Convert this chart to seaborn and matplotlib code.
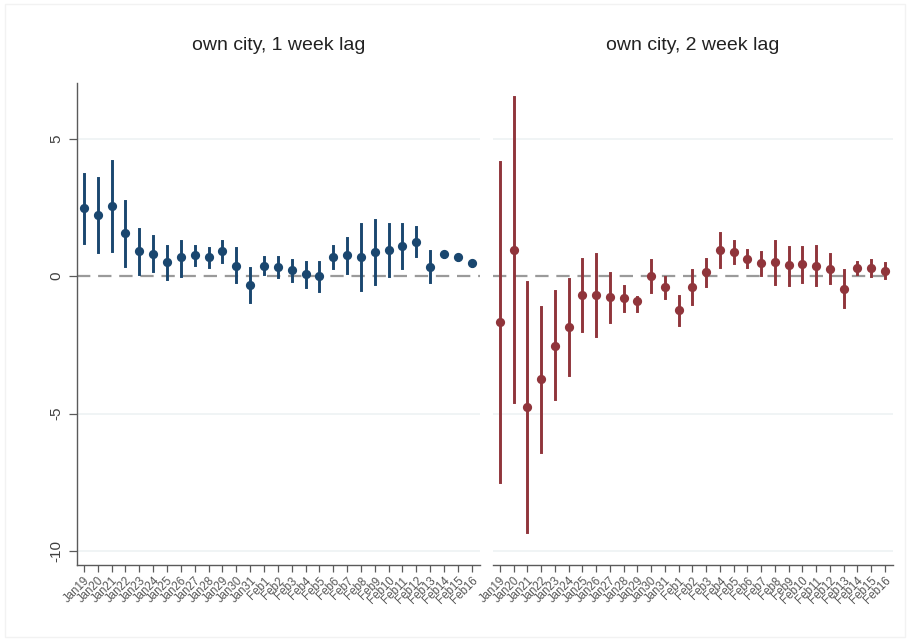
import numpy as np
import pandas as pd
import matplotlib
matplotlib.use("Agg")
import matplotlib.pyplot as plt
import seaborn as sns

# Daily labels shared by both panels
dates = ["Jan19", "Jan20", "Jan21", "Jan22", "Jan23", "Jan24", "Jan25", "Jan26",
         "Jan27", "Jan28", "Jan29", "Jan30", "Jan31", "Feb1", "Feb2", "Feb3",
         "Feb4", "Feb5", "Feb6", "Feb7", "Feb8", "Feb9", "Feb10", "Feb11",
         "Feb12", "Feb13", "Feb14", "Feb15", "Feb16"]

# own city, 1 week lag: coefficient with lower / upper confidence bounds
lag1_est = [2.46, 2.24, 2.55, 1.58, 0.90, 0.82, 0.50, 0.68, 0.76, 0.68, 0.92, 0.38, -0.32,
            0.38, 0.34, 0.21, 0.06, 0.00, 0.70, 0.78, 0.70, 0.86, 0.95, 1.09, 1.25, 0.34,
            0.79, 0.68, 0.46]
lag1_lo = [1.21, 0.88, 0.92, 0.38, 0.08, 0.19, -0.09, 0.01, 0.40, 0.34, 0.52, -0.23, -0.95,
           0.07, -0.02, -0.17, -0.39, -0.53, 0.30, 0.12, -0.51, -0.29, 0.00, 0.28, 0.73, -0.23,
           0.71, 0.60, 0.38]
lag1_hi = [3.71, 3.58, 4.18, 2.73, 1.70, 1.45, 1.09, 1.28, 1.10, 1.01, 1.28, 1.01, 0.30,
           0.68, 0.68, 0.58, 0.52, 0.50, 1.09, 1.37, 1.89, 2.04, 1.88, 1.89, 1.77, 0.91,
           0.87, 0.76, 0.54]

# own city, 2 week lag
lag2_est = [-1.65, 0.95, -4.75, -3.75, -2.53, -1.84, -0.69, -0.69, -0.75, -0.81, -0.91, 0.00,
            -0.39, -1.24, -0.40, 0.16, 0.95, 0.88, 0.64, 0.48, 0.52, 0.40, 0.44, 0.38, 0.25,
            -0.47, 0.30, 0.30, 0.18]
lag2_lo = [-7.48, -4.57, -9.30, -6.41, -4.48, -3.60, -2.00, -2.18, -1.68, -1.26, -1.26, -0.57,
           -0.81, -1.76, -1.02, -0.36, 0.32, 0.48, 0.34, 0.04, -0.29, -0.33, -0.21, -0.33, -0.24,
           -1.14, 0.07, 0.01, -0.08]
lag2_hi = [4.16, 6.50, -0.21, -1.12, -0.53, -0.11, 0.62, 0.80, 0.13, -0.35, -0.75, 0.58,
           -0.02, -0.73, 0.22, 0.64, 1.55, 1.28, 0.95, 0.88, 1.27, 1.07, 1.07, 1.09, 0.80,
           0.22, 0.52, 0.58, 0.46]

titles = ["own city, 1 week lag", "own city, 2 week lag"]
colors = ["#1a476f", "#90353b"]
y_ticks = [5, 0, -5, -10]


def long_frame(est, lo, hi):
    # three rows per day: the median gives the estimate, the full range gives the interval
    rows = []
    for d, e, l, h in zip(dates, est, lo, hi):
        rows += [(d, l), (d, e), (d, h)]
    return pd.DataFrame(rows, columns=["date", "coef"])


plt.rcParams["font.family"] = ["Liberation Sans", "DejaVu Sans"]
fig = plt.figure(figsize=(9.10, 6.42), dpi=100)
fig.patch.set_facecolor("white")

axis_col = "#5a5a5a"
positions = [[77 / 910, 77 / 642, 403 / 910, 482 / 642],
             [493 / 910, 77 / 642, 400 / 910, 482 / 642]]
series = [(lag1_est, lag1_lo, lag1_hi), (lag2_est, lag2_lo, lag2_hi)]

for i, (pos, (est, lo, hi)) in enumerate(zip(positions, series)):
    ax = fig.add_axes(pos)
    df = long_frame(est, lo, hi)
    for t in y_ticks:
        if t != 0:
            ax.axhline(t, color="#eef2f3", lw=1.2, zorder=0)
    ax.axhline(0, color="#9a9a9a", lw=1.6, ls=(0, (6, 3.5)), zorder=1)
    sns.pointplot(data=df, x="date", y="coef", order=dates, estimator="median",
                  errorbar=("pi", 100), color=colors[i], linestyle="none",
                  marker="o", markersize=4.6, err_kws={"linewidth": 2.1},
                  ax=ax)
    ax.set_xlim(-0.5, 28.6)
    ax.set_ylim(-10.5, 7.02)
    ax.set_xlabel("")
    ax.set_ylabel("")
    ax.set_facecolor("white")
    for s in ["top", "right"]:
        ax.spines[s].set_visible(False)
    ax.spines["bottom"].set_color(axis_col)
    ax.spines["bottom"].set_linewidth(1.0)
    ax.set_xticks(range(len(dates)))
    ax.set_xticklabels(dates, rotation=45, ha="right", va="top",
                       rotation_mode="anchor", fontsize=8.3, color="#555555")
    ax.tick_params(axis="x", length=5, width=0.9, color=axis_col, pad=2)
    if i == 0:
        ax.spines["left"].set_color(axis_col)
        ax.spines["left"].set_linewidth(1.0)
        ax.set_yticks(y_ticks)
        ax.set_yticklabels([str(t) for t in y_ticks], rotation=90, va="center",
                           fontsize=11, color="#404040")
        ax.tick_params(axis="y", length=6, width=0.9, color=axis_col, pad=4)
    else:
        ax.spines["left"].set_visible(False)
        ax.set_yticks([])
    ax.grid(False)
    fig.text(pos[0] + pos[2] / 2, 1 - 45 / 642, titles[i], ha="center", va="center",
             fontsize=14, color="#222222")

# thin outer frame
fig.add_artist(plt.Rectangle((0.006, 0.008), 0.988, 0.986, transform=fig.transFigure,
                             fill=False, edgecolor="#f2f2f2", lw=1.0))

fig.savefig("out.png", dpi=100)
